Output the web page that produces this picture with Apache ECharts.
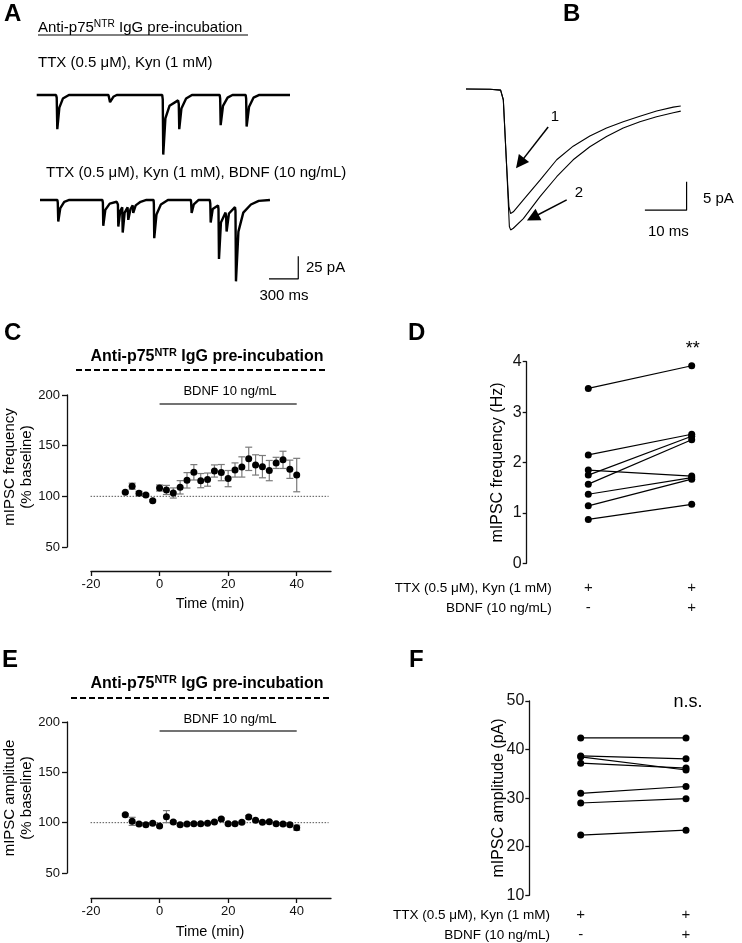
<!DOCTYPE html>
<html><head><meta charset="utf-8">
<script src="https://cdn.jsdelivr.net/npm/echarts@6/dist/echarts.min.js"></script>
<style>html,body{margin:0;padding:0;background:#fff}#c{width:742px;height:943px}</style>
</head><body><div id="c"></div>
<script>
// ---------- DATA ----------
// Panel A: example traces (time ms, current pA)
const traceA1 = [[0,0],[198,0],[205,-3],[211,-37.8],[232,-14],[268,-4],[330,0],[735,0],[751,-8],[785,-2],[820,0],[1285,0],[1291,-5],[1296,-66],[1318,-26],[1360,-12],[1448,-6],[1455,-10],[1460,-37.8],[1482,-15],[1530,-4],[1590,0],[1874,0],[1879,-4],[1884,-33.4],[1908,-12],[1955,-3],[2005,0],[2140,0],[2145,-4],[2150,-34.9],[2175,-13],[2220,-3],[2280,0],[2594,0]];
const traceA2 = [[0,0],[178,0],[182,-3],[187,-23.9],[208,-9],[248,-2],[300,0],[639,0],[644,-3],[648,-28.6],[669,-11],[714,-4],[785,-2],[798,-5],[802,-29.4],[822,-12],[842,-8],[847,-36],[867,-14],[897,-8],[904,-22],[927,-10],[949,-6],[955,-14.3],[980,-6],[1030,-2],[1090,0],[1163,0],[1166,-4],[1170,-42.2],[1193,-16],[1238,-5],[1310,0],[1545,0],[1548,-3],[1553,-14.3],[1575,-5],[1625,0],[1739,0],[1744,-4],[1748,-25],[1769,-10],[1823,-6],[1828,-10],[1833,-65.3],[1853,-25],[1900,-14],[1906,-18],[1911,-34.9],[1935,-15],[1997,-8],[2002,-12],[2007,-90],[2032,-35],[2082,-14],[2160,-5],[2240,-1],[2355,0]];
const scaleA = [[2345,-87.3],[2645,-87.3],[2645,-62.3]];
// Panel B: averaged mIPSCs (ms, pA)
const traceB1 = [[0,0],[5.76,-0.05],[8.3,-0.2],[8.95,-1.9],[9.75,-13.7],[10.3,-20.8],[10.7,-22],[11.35,-21.7],[13.75,-19.6],[17.75,-16.1],[21.75,-12.5],[25.7,-10.1],[29.7,-8.3],[33.7,-6.9],[37.7,-5.8],[41.7,-4.8],[45.7,-3.9],[49.7,-3.2],[51.5,-3.0]];
const traceB2 = [[0,0],[5.76,-0.05],[8.3,-0.2],[8.95,-1.9],[9.75,-13.7],[10.4,-24.3],[10.7,-24.9],[11.35,-24.6],[13.75,-22.9],[17.75,-19.0],[21.75,-15.5],[25.7,-12.5],[29.7,-10.2],[33.7,-8.4],[37.7,-6.9],[41.7,-5.8],[45.7,-4.9],[49.7,-4.2],[51.5,-3.9]];
const scaleB = [[42.9,-21.4],[52.9,-21.4],[52.9,-16.4]];
const arrow1 = [[19.7,-6.7],[12.95,-13.1]];
const arrow2 = [[24.15,-19.6],[16.0,-22.7]];
// Panels C/E: time course
const timeMin = [-10,-8,-6,-4,-2,0,2,4,6,8,10,12,14,16,18,20,22,24,26,28,30,32,34,36,38,40];
const freqMean = [104,110,103,101.3,95.7,108.2,106.3,103.3,108.9,115.8,123.7,115.5,116.5,125,123.4,117.5,126,129,137,131,129.3,125.4,133,136,126.7,121];
const freqSem  = [1,3,2,1,1,3,4.5,5,6.6,7.6,7.6,7,6.5,6,8,8,7,10,11.5,10,11,10,5.5,8.5,9,16.5];
const ampMean  = [107.9,101.3,98.7,98,99.3,96.7,106,100.7,98,98.7,99,99,99.3,100.7,103.6,99,99,100.3,105.6,102.3,100.3,101,99,98.7,98,95];
const ampSem   = [1,4,1,1,1,1,6,1,1,1,1,1,1,1,1,1,1,1,1.5,1,1,1,1,1,1,2.5];
const bdnfPeriod = [0,40];
const timeTicks = [-20,0,20,40];
// Panels D/F: paired values
const freqPre  = [3.47,2.15,1.75,1.57,1.85,1.37,1.14,0.87];
const freqPost = [3.92,2.56,2.52,2.45,1.73,1.70,1.67,1.17];
const ampPre   = [42.4,38.7,38.5,37.2,31.0,29.0,22.4];
const ampPost  = [42.4,38.1,35.8,36.2,32.4,29.9,23.4];
const rowTTX  = ['+','+'];
const rowBDNF = ['-','+'];

// ---------- CHART ----------
const FF = "'Liberation Sans', Arial, sans-serif";
const chart = echarts.init(document.getElementById('c'), null, {renderer:'canvas'});
const black = '#111';

function hiddenAxes(n, xr, yr){
  return {x:{gridIndex:n,type:'value',min:xr[0],max:xr[1],show:false},
          y:{gridIndex:n,type:'value',min:yr[0],max:yr[1],show:false}};
}
const axA1 = hiddenAxes(0,[0,2800],[-70,15]);
const axA2 = hiddenAxes(1,[0,2800],[-100,15]);
const axB  = hiddenAxes(2,[0,60],[-25,2]);

function timeXAxis(n, off){
  return {gridIndex:n,type:'value',min:-20,max:50,interval:10,offset:off,
    axisLine:{onZero:false,lineStyle:{color:black,width:1.3}},
    axisTick:{length:5,lineStyle:{color:black,width:1.3},customValues:timeTicks},
    axisLabel:{fontSize:13,color:black,fontFamily:FF,margin:7,customValues:timeTicks},
    splitLine:{show:false}};
}
function pctYAxis(n){
  return {gridIndex:n,type:'value',min:50,max:200,interval:50,offset:24,
    axisLine:{show:true,onZero:false,lineStyle:{color:black,width:1.3}},
    axisTick:{show:true,length:5,lineStyle:{color:black,width:1.3}},
    axisLabel:{fontSize:13,color:black,fontFamily:FF,margin:7},
    splitLine:{show:false}};
}
function pairXAxis(n, margin){
  return {gridIndex:n,type:'value',min:0,max:1,interval:1,
    axisLine:{show:false,onZero:false},axisTick:{show:false},splitLine:{show:false},
    axisLabel:{show:true,fontSize:15,color:black,fontFamily:FF,margin:margin,lineHeight:20,
      formatter:(v)=>rowTTX[v]+'\n'+rowBDNF[v]}};
}
function pairYAxis(n,min,max,iv,off){
  return {gridIndex:n,type:'value',min:min,max:max,interval:iv,offset:off,
    axisLine:{show:true,onZero:false,lineStyle:{color:black,width:1.3}},
    axisTick:{show:true,length:4,lineStyle:{color:black,width:1.3}},
    axisLabel:{fontSize:16,color:black,fontFamily:FF,margin:5},
    splitLine:{show:false}};
}

function errRender(params, api){
  const x=api.value(0), y=api.value(1), e=api.value(2);
  const t=api.coord([x,y+e]), b=api.coord([x,y-e]);
  const w=3.5, st={stroke:'#7a7a7a',lineWidth:1.2};
  return {type:'group',children:[
    {type:'line',shape:{x1:t[0],y1:t[1],x2:b[0],y2:b[1]},style:st},
    {type:'line',shape:{x1:t[0]-w,y1:t[1],x2:t[0]+w,y2:t[1]},style:st},
    {type:'line',shape:{x1:b[0]-w,y1:b[1],x2:b[0]+w,y2:b[1]},style:st}]};
}

function timeSeries(n, mean, sem){
  const pts = timeMin.map((t,i)=>[t,mean[i]]);
  const errs = timeMin.map((t,i)=>[t,mean[i],sem[i]]);
  return [
    {type:'line',xAxisIndex:n,yAxisIndex:n,data:[[-28,100],[49.3,100]],clip:false,showSymbol:false,silent:true,
      lineStyle:{color:'#555',width:1,type:[1.5,1.5]},z:1},
    {type:'line',xAxisIndex:n,yAxisIndex:n,data:bdnfPeriod.map(t=>[t,191]),showSymbol:false,silent:true,clip:false,
      lineStyle:{color:'#444',width:1.5}},
    {type:'custom',xAxisIndex:n,yAxisIndex:n,data:errs,renderItem:errRender,z:2},
    {type:'scatter',xAxisIndex:n,yAxisIndex:n,data:pts,symbol:'circle',symbolSize:7,itemStyle:{color:'#000',opacity:1},z:3}
  ];
}
function pairSeries(n, pre, post){
  return pre.map((p,i)=>({type:'line',xAxisIndex:n,yAxisIndex:n,data:[[0,p],[1,post[i]]],
    symbol:'circle',symbolSize:7,showSymbol:true,itemStyle:{color:'#000'},lineStyle:{color:'#000',width:1.2}}));
}

const traceLine = (n,data,w)=>({type:'line',xAxisIndex:n,yAxisIndex:n,data:data,showSymbol:false,silent:true,
  lineStyle:{color:'#000',width:w}});

const series = [
  traceLine(0,traceA1,2.4),
  traceLine(1,traceA2,2.4),
  traceLine(1,scaleA,1.2),
  Object.assign(traceLine(2,traceB1,1.1),{markLine:{silent:true,symbol:['none','triangle'],symbolSize:13,
    label:{show:false},lineStyle:{color:'#000',width:1.5,type:'solid'},
    itemStyle:{color:'#000'},
    data:[[{coord:arrow1[0]},{coord:arrow1[1]}],[{coord:arrow2[0]},{coord:arrow2[1]}]]}}),
  traceLine(2,traceB2,1.1),
  traceLine(2,scaleB,1.2),
  ...timeSeries(3,freqMean,freqSem),
  ...pairSeries(4,freqPre,freqPost),
  ...timeSeries(5,ampMean,ampSem),
  ...pairSeries(6,ampPre,ampPost)
];

function txt(x,y,text,size,opt){
  opt = opt||{};
  return {type:'text',x:x,y:y,rotation:opt.rot||0,silent:true,
    style:{text:text,font:(opt.bold?'bold ':'')+size+'px '+FF,fill:'#000',
      align:opt.align||'left',verticalAlign:'middle',lineHeight:opt.lh||size*1.2}};
}
function supTitle(x,y,size,bold,align){
  const w = bold?'bold':'normal';
  return {type:'text',x:x,y:y,silent:true,style:{
    text:'{n|Anti-p75}{s|NTR}{n| IgG pre-incubation}',align:align,verticalAlign:'middle',fill:'#000',
    rich:{n:{fontSize:size,fontFamily:FF,fontWeight:w,lineHeight:size+3},
          s:{fontSize:size*0.68,fontFamily:FF,fontWeight:w,verticalAlign:'top',lineHeight:size*0.68}}}};
}
function hline(x1,x2,y,w,dash){
  return {type:'line',silent:true,shape:{x1:x1,y1:y,x2:x2,y2:y},style:{stroke:'#000',lineWidth:w,lineDash:dash||null}};
}

const graphic = [
  txt(4,14,'A',24,{bold:true}), txt(563,14,'B',24,{bold:true}),
  txt(4,333,'C',24,{bold:true}), txt(408,333,'D',24,{bold:true}),
  txt(2,660,'E',24,{bold:true}), txt(409,660,'F',24,{bold:true}),
  // A
  supTitle(38,28,15,false,'left'), hline(38,248,35,1),
  txt(38,63,'TTX (0.5 \u03bcM), Kyn (1 mM)',15),
  txt(46,173,'TTX (0.5 \u03bcM), Kyn (1 mM), BDNF (10 ng/mL)',15),
  txt(306,268,'25 pA',15), txt(284,296,'300 ms',15,{align:'center'}),
  // B
  txt(555,117,'1',15,{align:'center'}), txt(579,193,'2',15,{align:'center'}),
  txt(703,199,'5 pA',15), txt(648,232,'10 ms',15),
  // C
  supTitle(207,357,16,true,'center'), hline(76,328,370,2,[6,3]),
  txt(230,391,'BDNF 10 ng/mL',13,{align:'center'}),
  txt(18.5,467,'mIPSC frequency\n(% baseline)',15,{align:'center',rot:Math.PI/2,lh:17}),
  txt(210,604,'Time (min)',14.5,{align:'center'}),
  // D
  txt(692.7,349,'**',18,{align:'center'}),
  txt(498,462.5,'mIPSC frequency (Hz)',16,{align:'center',rot:Math.PI/2}),
  txt(551.7,588,'TTX (0.5 \u03bcM), Kyn (1 mM)',13.5,{align:'right'}),
  txt(551.7,608,'BDNF (10 ng/mL)',13.5,{align:'right'}),
  // E
  supTitle(207,684,16,true,'center'), hline(71,331,698,2,[6,3]),
  txt(230,719,'BDNF 10 ng/mL',13,{align:'center'}),
  txt(18.5,798,'mIPSC amplitude\n(% baseline)',15,{align:'center',rot:Math.PI/2,lh:17}),
  txt(210,932,'Time (min)',14.5,{align:'center'}),
  // F
  txt(688,702,'n.s.',18,{align:'center'}),
  txt(498.3,798,'mIPSC amplitude (pA)',16,{align:'center',rot:Math.PI/2}),
  txt(550,915,'TTX (0.5 \u03bcM), Kyn (1 mM)',13.5,{align:'right'}),
  txt(550,935,'BDNF (10 ng/mL)',13.5,{align:'right'})
];

const G = (l,t,w,h)=>({left:l,top:t,width:w,height:h,containLabel:false,outerBoundsMode:'none'});
chart.setOption({
  animation:false,
  textStyle:{fontFamily:FF},
  grid:[G(36.7,81.4,273.4,76.8),G(40,186.4,273.4,104),G(466,77.7,250.2,152.8),
        G(91,395,240,152),G(588.3,361.7,103.4,201.6),G(91,722,240,151),G(580.7,701,105.3,194.3)],
  xAxis:[axA1.x,axA2.x,axB.x,timeXAxis(3,24),pairXAxis(4,15),timeXAxis(5,25),pairXAxis(6,10)],
  yAxis:[axA1.y,axA2.y,axB.y,pctYAxis(3),pairYAxis(4,0,4,1,61.6),pctYAxis(5),pairYAxis(6,10,50,10,51.4)],
  series:series,
  graphic:graphic
});
</script></body></html>
